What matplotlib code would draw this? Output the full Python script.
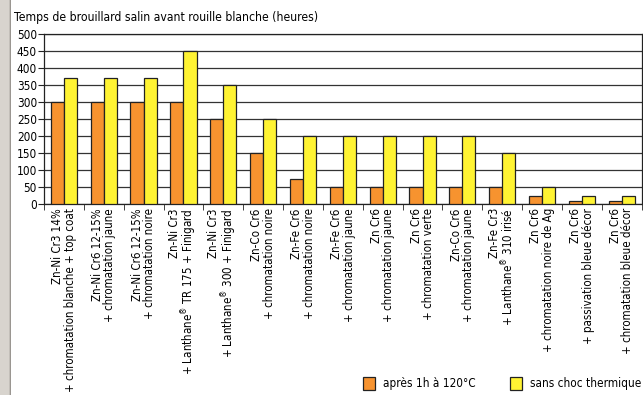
import matplotlib.pyplot as plt
from matplotlib.patches import FancyBboxPatch, Rectangle
import numpy as np

plt.rcParams['font.family'] = ['DejaVu Sans']
plt.rcParams['font.stretch'] = 'condensed'

# données
labels = [
    "Zn-Ni Cr3 14%\n+ chromatation blanche + top coat",
    "Zn-Ni Cr6 12-15%\n+ chromatation jaune",
    "Zn-Ni Cr6 12-15%\n+ chromatation noire",
    "Zn-Ni Cr3\n+ Lanthane$^{®}$ TR 175 + Finigard",
    "Zn-Ni Cr3\n+ Lanthane$^{®}$ 300 + Finigard",
    "Zn-Co Cr6\n+ chromatation noire",
    "Zn-Fe Cr6\n+ chromatation noire",
    "Zn-Fe Cr6\n+ chromatation jaune",
    "Zn Cr6\n+ chromatation jaune",
    "Zn Cr6\n+ chromatation verte",
    "Zn-Co Cr6\n+ chromatation jaune",
    "Zn-Fe Cr3\n+ Lanthane$^{®}$ 310 irisé",
    "Zn Cr6\n+ chromatation noire de Ag",
    "Zn Cr6\n+ passivation bleue décor",
    "Zn Cr6\n+ chromatation bleue décor",
]
apres_choc = [300, 300, 300, 300, 250, 150, 75, 50, 50, 50, 50, 50, 25, 10, 10]
sans_choc = [370, 370, 370, 450, 350, 250, 200, 200, 200, 200, 200, 150, 50, 25, 25]

c_orange = '#F7932F'
c_jaune = '#FFF333'

fig = plt.figure(figsize=(6.43, 3.95), dpi=100)
fig.patch.set_facecolor('#D8D4CE')
# cadre blanc arrondi
fig.patches.append(FancyBboxPatch((0.016, -0.05), 1.2, 1.2,
                                  boxstyle='round,pad=0,rounding_size=0.03',
                                  transform=fig.transFigure, facecolor='white',
                                  edgecolor='#8A8680', lw=0.8, zorder=-5))

ax = fig.add_axes([0.0684, 0.4835, 0.9295, 0.4304])
ax.set_facecolor('white')
x = np.arange(len(labels))
w = 0.33
ax.bar(x - w / 2, apres_choc, w, color=c_orange, edgecolor='#222222', lw=0.9, zorder=3)
ax.bar(x + w / 2, sans_choc, w, color=c_jaune, edgecolor='#222222', lw=0.9, zorder=3)

ax.set_xlim(-0.5, len(labels) - 0.5)
ax.set_ylim(0, 500)
ax.set_yticks(range(0, 501, 50))
ax.yaxis.grid(True, color='#333333', lw=0.9)
ax.set_axisbelow(True)
for s in ax.spines.values():
    s.set_color('#222222')
    s.set_linewidth(0.9)

ax.set_xticks(x)
ax.set_xticklabels(labels, rotation=90, fontsize=8.3, va='top', ha='center',
                   multialignment='right', linespacing=0.95)
ax.tick_params(axis='x', length=0, pad=3)
ax.set_xticks(np.arange(-0.5, len(labels), 1), minor=True)
ax.tick_params(axis='x', which='minor', length=4, color='#222222')
ax.tick_params(axis='y', length=4, labelsize=8.5, pad=1, color='#222222')

fig.text(0.022, 0.955, "Temps de brouillard salin avant rouille blanche (heures)",
         fontsize=8.7, va='center', ha='left')

# légende
fig.patches.append(Rectangle((0.5645, 0.0127), 0.0187, 0.033, transform=fig.transFigure,
                             facecolor=c_orange, edgecolor='#222222', lw=0.9))
fig.text(0.5957, 0.030, "après 1h à 120°C", fontsize=8.5, va='center')
fig.patches.append(Rectangle((0.793, 0.0127), 0.0187, 0.033, transform=fig.transFigure,
                             facecolor=c_jaune, edgecolor='#222222', lw=0.9))
fig.text(0.824, 0.030, "sans choc thermique", fontsize=8.5, va='center')

fig.savefig('out.png', dpi=100)
